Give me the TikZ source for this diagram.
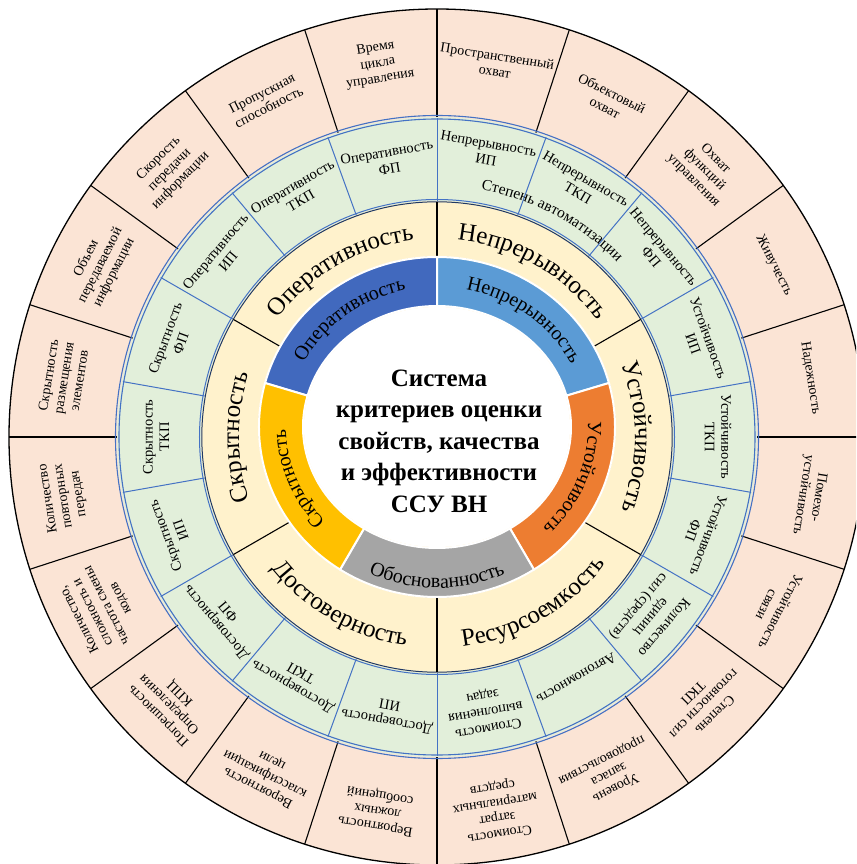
\documentclass[tikz,border=0pt]{standalone}
\usepackage{fontspec}
\setmainfont{Liberation Serif}
\usetikzlibrary{decorations.text}
\definecolor{pinkc}{HTML}{FBE4D5}
\definecolor{greenc}{HTML}{E2EFDA}
\definecolor{creamc}{HTML}{FFF2CC}
\definecolor{lineblue}{HTML}{4472C4}
\definecolor{darkline}{HTML}{1F3864}
\definecolor{segA}{HTML}{4169BE}
\definecolor{segB}{HTML}{5B9BD5}
\definecolor{segC}{HTML}{ED7D31}
\definecolor{segD}{HTML}{A5A5A5}
\definecolor{segE}{HTML}{FFC000}
\tikzset{
  blackdiv/.style={draw=black, line width=1.1},
  bluediv/.style={draw=lineblue, line width=1.0},
  pinktext/.style={align=center, inner sep=0pt, font=\fontsize{14}{15.5}\selectfont},
  greentext/.style={align=center, inner sep=0pt, font=\fontsize{14.5}{16.5}\selectfont},
  segstyle/.style={draw=white, line width=2pt},
}
\newcommand\pinklab[2]{\node[pinktext, rotate=#1-90] at (#1:378) {#2};}
\newcommand\greenlab[3]{\node[greentext, rotate=#1-90] at (#1:#2) {#3};}
% circular text: radius, start, end, size, text
\newcommand\circtext[5]{\path[decorate, decoration={text along path, text align=center, text={|\fontsize{#4}{#4}\selectfont|#5}}] (#2:#1) arc[start angle=#2, end angle=#3, radius=#1];}
% elliptic text (colored ring, centre shifted by 10 up): rx, ry, start, end, size, text
\newcommand\elltext[6]{\path[decorate, decoration={text along path, text align=center, text={|\fontsize{#5}{#5}\selectfont|#6}}] ({#1*cos(#3)},{#2*sin(#3)+10}) arc[start angle=#3, end angle=#4, x radius=#1, y radius=#2];}
% segment of colored ring: start, end, colour
\newcommand\seg[3]{\path[segstyle, fill=#3] ({178*cos(#1)},{170*sin(#1)+10}) arc[start angle=#1, end angle=#2, x radius=178, y radius=170] -- ({134*cos(#2)},{121*sin(#2)+10}) arc[start angle=#2, end angle=#1, x radius=134, y radius=121] -- cycle;}

\begin{document}
\begin{tikzpicture}[x=1pt,y=1pt]
\useasboundingbox (-437,-427) rectangle (419,437);
\clip (-437,-427) rectangle (419,437);
\fill[white] (-437,-427) rectangle (419,437);
% rings
\fill[pinkc] (0,0) circle[radius=428];
\fill[greenc] (0,0) circle[radius=320];
\fill[creamc] (0,0) circle[radius=236];
% pink dividers
\foreach \a in {0,18,...,342} \draw[blackdiv] (\a:320) -- (\a:428);
\draw[black, line width=1.3] (0,0) circle[radius=428];
% green dividers
\foreach \a in {10,30,...,350} \draw[bluediv] (\a:236) -- (\a:319);
\draw[lineblue, line width=1.1] (0,0) circle[radius=321.5];
\draw[lineblue, line width=1.1] (0,0) circle[radius=318];
\draw[lineblue, line width=1.0] (0,0) circle[radius=237.5];
\draw[darkline, line width=1.0] (0,0) circle[radius=235.2];
% cream dividers
\foreach \a in {30,90,...,330} \draw[blackdiv] (\a:150) -- (\a:235);
% colored ring
\draw[black!70, line width=0.8] (0,10) ellipse[x radius=178, y radius=170];
\seg{90}{165}{segA}
\seg{15}{90}{segB}
\seg{-57}{15}{segC}
\seg{-123}{-57}{segD}
\seg{165}{237}{segE}
\fill[white] (0,10) ellipse[x radius=133, y radius=120];
% colored ring labels
\elltext{150}{140}{178}{78}{20}{Оперативность}
\elltext{150}{140}{102}{2}{20}{Непрерывность}
\elltext{151}{141}{29}{-71}{20}{Устойчивость}
\elltext{165}{161}{-145}{-35}{20}{Обоснованность}
\elltext{151}{141}{251}{151}{20}{Скрытность}
% cream labels
\circtext{198}{170}{70}{25}{Оперативность}
\circtext{198}{110}{10}{25}{Непрерывность}
\circtext{198}{50}{-50}{25}{Устойчивость}
\circtext{211}{-110}{-10}{25}{Ресурсоемкость}
\circtext{211}{-170}{-70}{25}{Достоверность}
\circtext{198}{230}{130}{25}{Скрытность}
% Степень автоматизации
\circtext{251}{95}{29}{15.5}{Степень автоматизации}
% green labels
\greenlab{80}{290}{Непрерывность\\ИП}
\greenlab{60}{290}{Непрерывность\\ТКП}
\greenlab{40}{288}{Непрерывность\\ФП}
\greenlab{20}{281}{Устойчивость\\ИП}
\greenlab{0}{281}{Устойчивость\\ТКП}
\greenlab{-20}{281}{Устойчивость\\ФП}
\greenlab{-40}{279}{Количество\\единиц\\сил (средств)}
\greenlab{-60}{279}{Автономность}
\greenlab{-80}{279}{Стоимость\\выполнения\\задач}
\greenlab{-100}{281}{Достоверность\\ИП}
\greenlab{-120}{281}{Достоверность\\ТКП}
\greenlab{-140}{281}{Достоверность\\ФП}
\greenlab{-160}{281}{Скрытность\\ИП}
\greenlab{180}{281}{Скрытность\\ТКП}
\greenlab{160}{281}{Скрытность\\ФП}
\greenlab{140}{281}{Оперативность\\ИП}
\greenlab{120}{281}{Оперативность\\ТКП}
\greenlab{100}{281}{Оперативность\\ФП}
% pink labels
\pinklab{81}{Пространственный\\охват}
\pinklab{63}{Объектовый\\охват}
\pinklab{45}{Охват\\функций\\управления}
\pinklab{27}{Живучесть}
\pinklab{9}{Надежность}
\pinklab{-9}{Помехо-\\устойчивость}
\pinklab{-27}{Устойчивость\\связи}
\pinklab{-45}{Степень\\готовности сил\\ТКП}
\pinklab{-63}{Уровень\\запаса\\продовольствия}
\pinklab{-81}{Стоимость\\затрат\\материальных\\средств}
\pinklab{-99}{Вероятность\\ложных\\сообщений}
\pinklab{-117}{Вероятность\\классификации\\цели}
\pinklab{-135}{Погрешность\\Определения\\КПЦ}
\pinklab{-153}{Количество,\\сложность и\\частота смены\\кодов}
\pinklab{-171}{Количество\\повторных\\передач}
\pinklab{171}{Скрытность\\размещения\\элементов}
\pinklab{153}{Объем\\передаваемой\\информации}
\pinklab{135}{Скорость\\передачи\\информации}
\pinklab{117}{Пропускная\\способность}
\pinklab{99}{Время\\цикла\\управления}
% centre title
\node[align=center, inner sep=0pt, font=\bfseries\fontsize{25}{31.5}\selectfont] (title) at (2,-4) {Система\\критериев оценки\\свойств, качества\\и эффективности\\ССУ ВН};
\end{tikzpicture}
\end{document}
